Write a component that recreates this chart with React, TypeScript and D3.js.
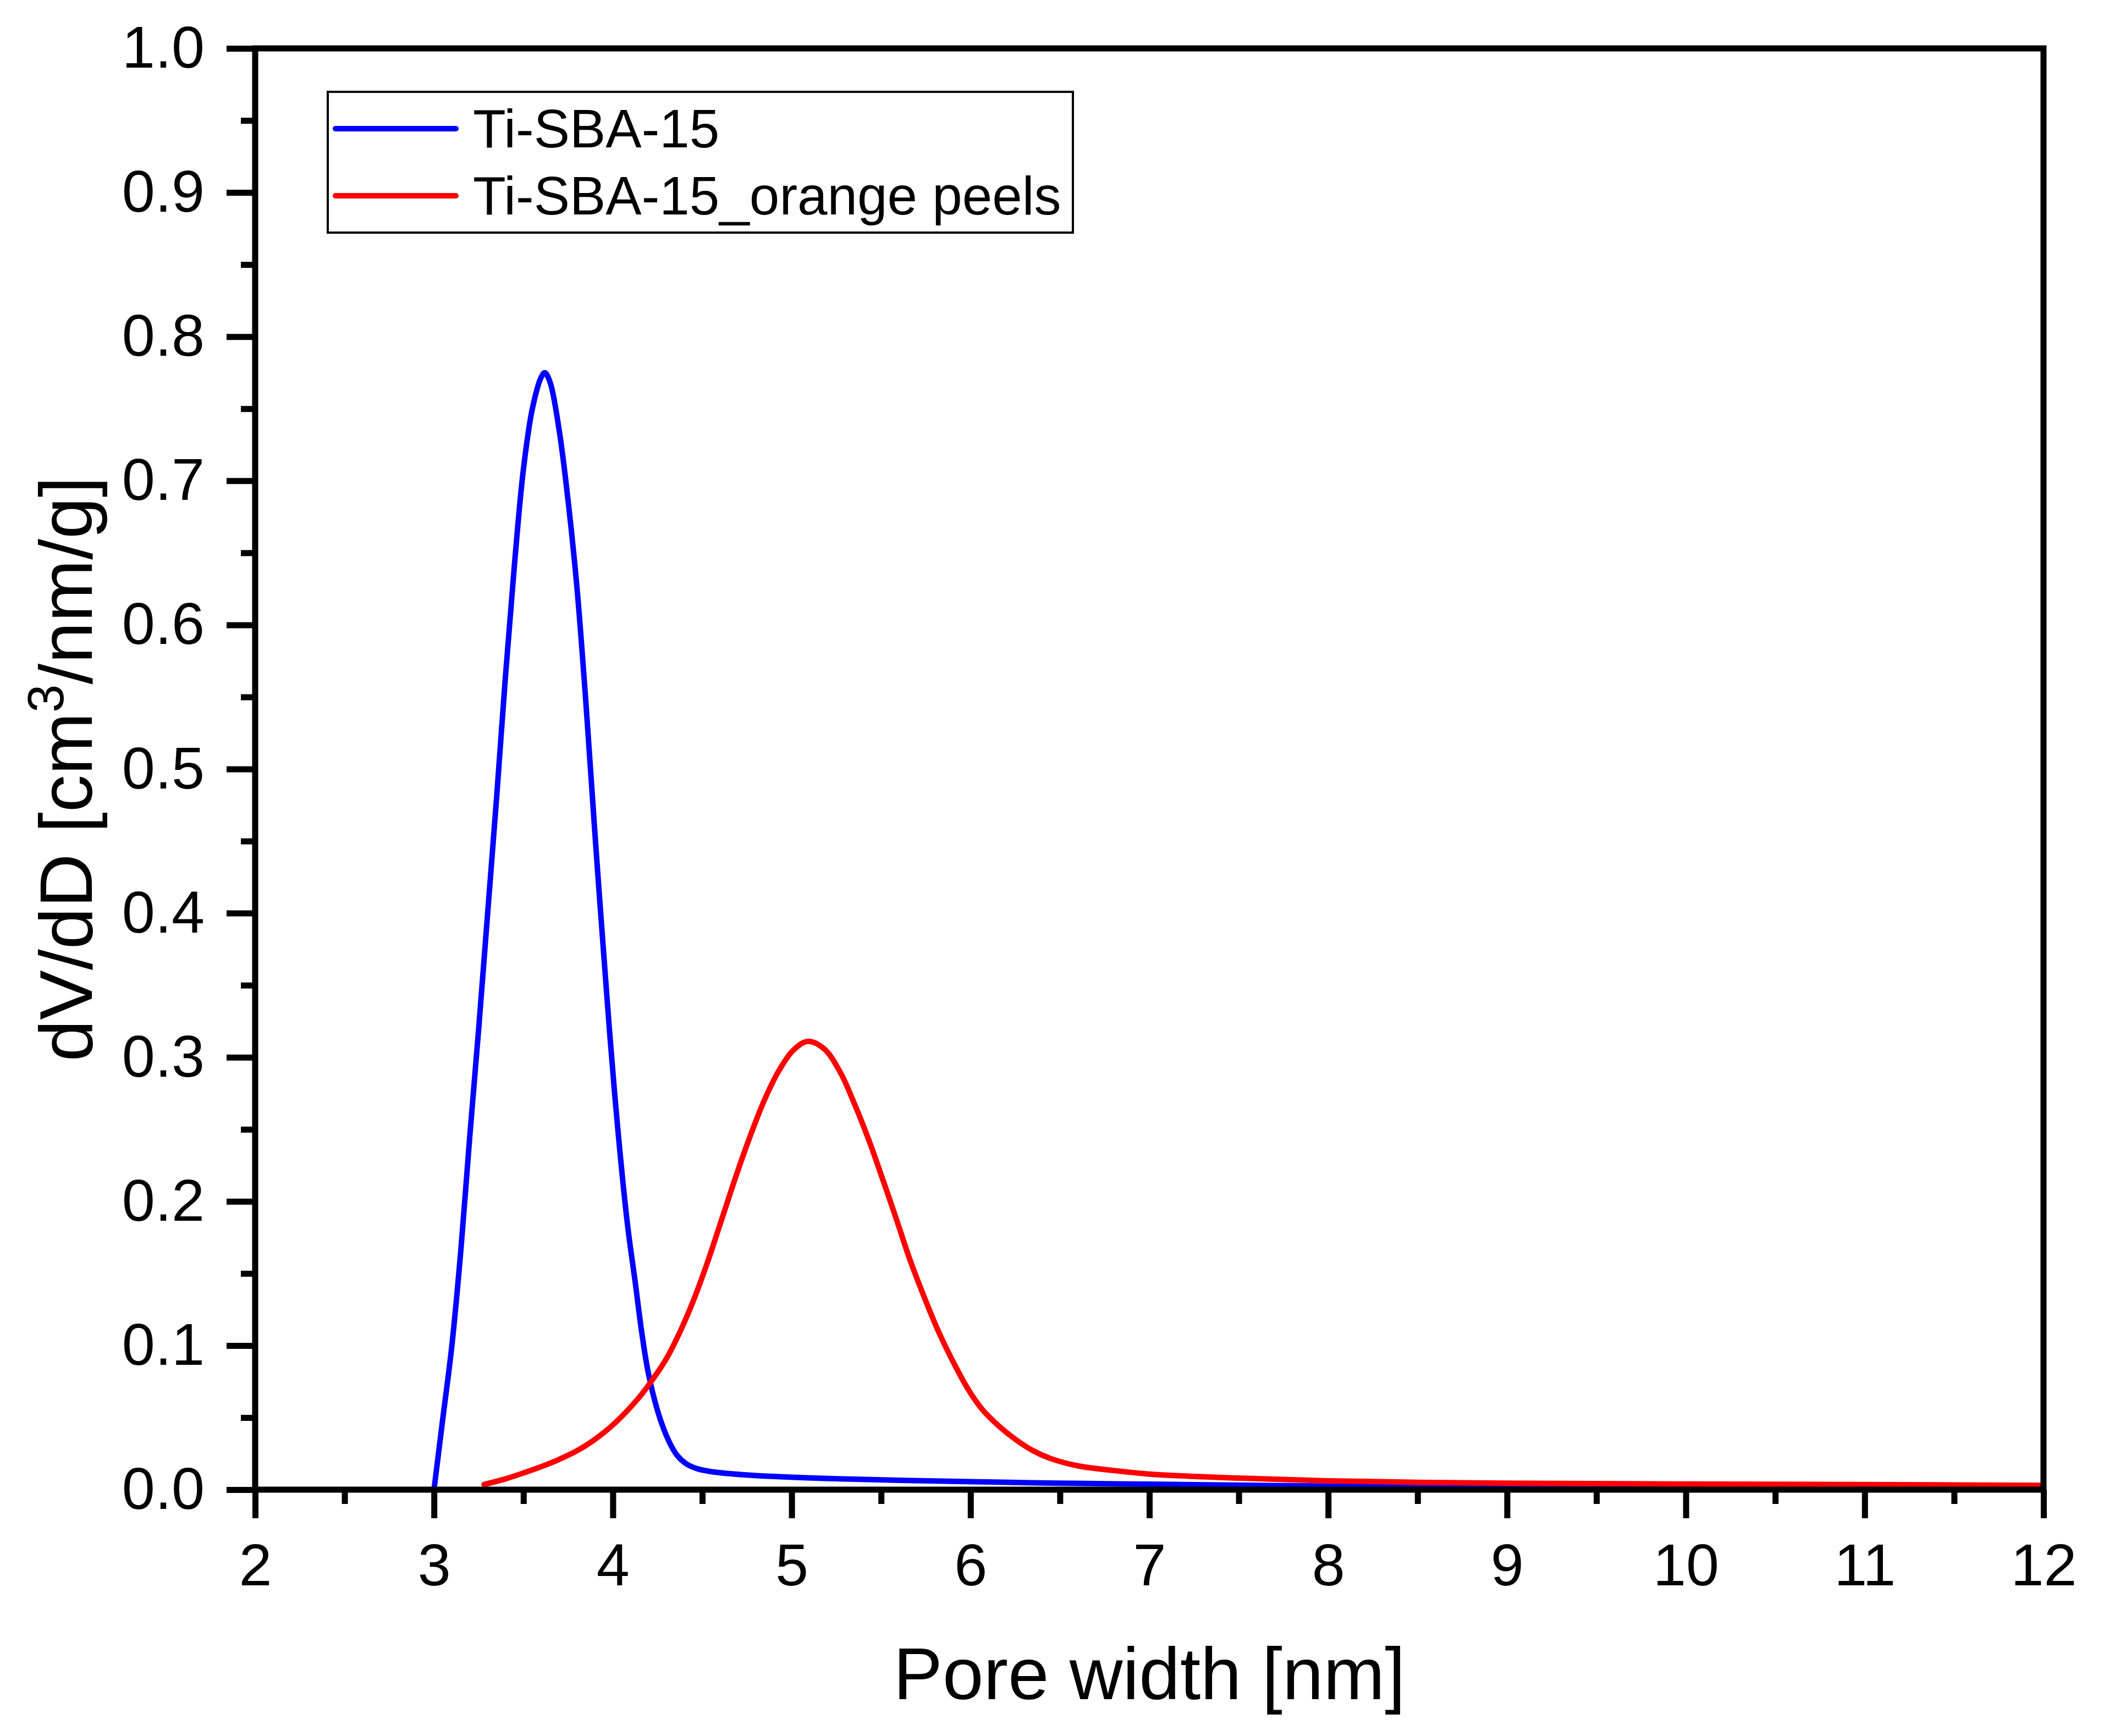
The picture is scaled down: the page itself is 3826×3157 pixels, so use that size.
import React, { useRef, useEffect } from "react";
import { select, scaleLinear, axisBottom, axisLeft, line, curveCatmullRom, format } from "d3";

// Ti-SBA-15 (blue)
const poreWidthTi = [
  3.0, 3.05, 3.1, 3.15, 3.2, 3.25, 3.3, 3.35, 3.4, 3.45, 3.5, 3.55, 3.6, 3.62, 3.65, 3.7,
  3.75, 3.8, 3.85, 3.9, 3.95, 4.01, 4.08, 4.124, 4.163, 4.2, 4.257, 4.312, 4.36, 4.41, 4.47,
  4.55, 4.77, 5.18, 6.1, 6.5, 7.0, 8.0, 8.65, 10.0, 11.0, 12.0,
];
const dvTi = [
  0.0, 0.05, 0.1, 0.166, 0.245, 0.32, 0.4, 0.48, 0.565, 0.642, 0.708, 0.75, 0.772, 0.775, 0.768, 0.735,
  0.686, 0.625, 0.545, 0.455, 0.37, 0.275, 0.186, 0.145, 0.108, 0.08, 0.052, 0.034, 0.0237, 0.018, 0.0146,
  0.0125, 0.01, 0.0078, 0.0053, 0.0045, 0.0038, 0.0025, 0.0022, 0.002, 0.0018, 0.0016,
];

// Ti-SBA-15_orange peels (red)
const poreWidthOrange = [
  3.28, 3.4, 3.51, 3.6, 3.7, 3.8, 3.89, 4.01, 4.14, 4.22, 4.3, 4.37, 4.45, 4.53, 4.61, 4.69, 4.77,
  4.85, 4.93, 5.01, 5.09, 5.18, 5.27, 5.35, 5.43, 5.51, 5.59, 5.66, 5.74, 5.82, 5.91, 5.99, 6.07,
  6.16, 6.25, 6.35, 6.45, 6.6, 6.8, 7.0, 7.5, 8.0, 8.5, 9.0, 10.0, 11.0, 12.0,
];
const dvOrange = [
  0.0036, 0.0075, 0.012, 0.016, 0.021, 0.027, 0.034, 0.046, 0.063, 0.076, 0.091, 0.108, 0.131, 0.158, 0.188, 0.218, 0.246,
  0.271, 0.291, 0.305, 0.311, 0.306, 0.29, 0.268, 0.243, 0.215, 0.186, 0.16, 0.134, 0.11, 0.087, 0.069, 0.055,
  0.044, 0.035, 0.027, 0.0215, 0.0165, 0.0133, 0.0108, 0.008, 0.0061, 0.0051, 0.0045, 0.0039, 0.0035, 0.003,
];

const seriesNames = ["Ti-SBA-15", "Ti-SBA-15_orange peels"];
const seriesColors = ["#0000ff", "#ff0000"];

const xMajorTicks = [2, 3, 4, 5, 6, 7, 8, 9, 10, 11, 12];
const xMinorTicks = [2.5, 3.5, 4.5, 5.5, 6.5, 7.5, 8.5, 9.5, 10.5, 11.5];
const yMajorTicks = [0, 0.1, 0.2, 0.3, 0.4, 0.5, 0.6, 0.7, 0.8, 0.9, 1.0];
const yMinorTicks = [0.05, 0.15, 0.25, 0.35, 0.45, 0.55, 0.65, 0.75, 0.85, 0.95];

const xTitle = "Pore width [nm]";

const W = 3826;
const H = 3157;
const FONT = "'Liberation Sans', Arial, Helvetica, sans-serif";

const App: React.FC = () => {
  const svgRef = useRef<SVGSVGElement>(null);

  useEffect(() => {
    document.body.style.margin = "0";
    const svg = select(svgRef.current);
    svg.selectAll("*").remove();

    const margin = { top: 88, right: W - 3716, bottom: H - 2709, left: 464 };
    const innerWidth = W - margin.left - margin.right;
    const innerHeight = H - margin.top - margin.bottom;

    const xScale = scaleLinear().domain([2, 12]).range([0, innerWidth]);
    const yScale = scaleLinear().domain([0, 1]).range([innerHeight, 0]);

    const g: any = svg.append("g").attr("transform", `translate(${margin.left},${margin.top})`);

    // curves
    const series = [
      { xs: poreWidthTi, ys: dvTi },
      { xs: poreWidthOrange, ys: dvOrange },
    ];
    const lineGen = line<[number, number]>()
      .x((d) => xScale(d[0]))
      .y((d) => yScale(d[1]))
      .curve(curveCatmullRom.alpha(0.5));

    series.forEach((s, i) => {
      const pts: [number, number][] = s.xs.map((x, j) => [x, s.ys[j]]);
      g.append("path")
        .datum(pts)
        .attr("d", lineGen)
        .attr("fill", "none")
        .attr("stroke", seriesColors[i])
        .attr("stroke-width", 10)
        .attr("stroke-linejoin", "round")
        .attr("stroke-linecap", "round");
    });

    // axes
    const styleAxis = (ax: any) => {
      ax.select(".domain").remove();
      ax.selectAll("line").attr("stroke", "#000").attr("stroke-width", 11);
      ax.selectAll("text")
        .attr("fill", "#000")
        .style("font-family", FONT)
        .style("font-size", "108px");
    };

    const xAxisG = g
      .append("g")
      .attr("transform", `translate(0,${innerHeight})`)
      .call(axisBottom(xScale).tickValues(xMajorTicks).tickSize(52).tickSizeOuter(0).tickPadding(45).tickFormat(format("d")));
    styleAxis(xAxisG);

    const xMinorG = g
      .append("g")
      .attr("transform", `translate(0,${innerHeight})`)
      .call(axisBottom(xScale).tickValues(xMinorTicks).tickSize(26).tickSizeOuter(0).tickFormat(() => ""));
    styleAxis(xMinorG);

    const yAxisG = g
      .append("g")
      .call(axisLeft(yScale).tickValues(yMajorTicks).tickSize(52).tickSizeOuter(0).tickPadding(40).tickFormat(format(".1f")));
    styleAxis(yAxisG);

    const yMinorG = g
      .append("g")
      .call(axisLeft(yScale).tickValues(yMinorTicks).tickSize(26).tickSizeOuter(0).tickFormat(() => ""));
    styleAxis(yMinorG);

    // frame
    g.append("rect")
      .attr("x", 0)
      .attr("y", 0)
      .attr("width", innerWidth)
      .attr("height", innerHeight)
      .attr("fill", "none")
      .attr("stroke", "#000")
      .attr("stroke-width", 11);

    // axis titles
    svg.append("text")
      .attr("x", margin.left + innerWidth / 2)
      .attr("y", 3090)
      .attr("text-anchor", "middle")
      .style("font-family", FONT)
      .style("font-size", "134px")
      .attr("fill", "#000")
      .text(xTitle);

    const yTitle = svg.append("text")
      .attr("transform", `translate(167,${margin.top + innerHeight / 2}) rotate(-90)`)
      .attr("text-anchor", "middle")
      .style("font-family", FONT)
      .style("font-size", "136px")
      .attr("fill", "#000");
    yTitle.append("tspan").text("dV/dD [cm");
    yTitle.append("tspan").attr("dy", -52).style("font-size", "92px").text("3");
    yTitle.append("tspan").attr("dy", 52).text("/nm/g]");

    // legend
    const legend = svg.append("g");
    legend.append("rect")
      .attr("x", 596)
      .attr("y", 167)
      .attr("width", 1355)
      .attr("height", 256)
      .attr("fill", "#fff")
      .attr("stroke", "#000")
      .attr("stroke-width", 4);
    const legendY = [234, 356];
    seriesNames.forEach((name, i) => {
      legend.append("line")
        .attr("x1", 610)
        .attr("x2", 829)
        .attr("y1", legendY[i])
        .attr("y2", legendY[i])
        .attr("stroke", seriesColors[i])
        .attr("stroke-width", 10)
        .attr("stroke-linecap", "round");
      legend.append("text")
        .attr("x", 860)
        .attr("y", legendY[i] + 34)
        .style("font-family", FONT)
        .style("font-size", "98px")
        .attr("fill", "#000")
        .text(name);
    });
  }, []);

  return (
    <svg
      ref={svgRef}
      width={W}
      height={H}
      viewBox={`0 0 ${W} ${H}`}
      style={{ display: "block", background: "#fff" }}
    />
  );
};

export default App;
